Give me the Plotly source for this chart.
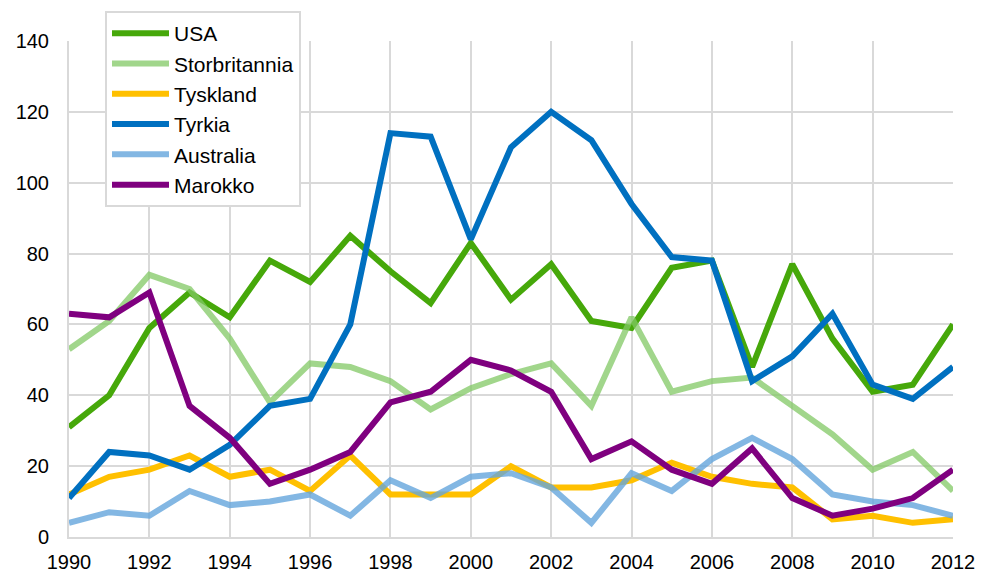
import plotly.graph_objects as go

years = list(range(1990, 2013))
usa = [31, 40, 59, 69, 62, 78, 72, 85, 75, 66, 83, 67, 77, 61, 59, 76, 78, 48, 77, 56, 41, 43, 60]
storbritannia = [53, 61, 74, 70, 56, 38, 49, 48, 44, 36, 42, 46, 49, 37, 62, 41, 44, 45, 37, 29, 19, 24, 13]
tyskland = [12, 17, 19, 23, 17, 19, 13, 23, 12, 12, 12, 20, 14, 14, 16, 21, 17, 15, 14, 5, 6, 4, 5]
tyrkia = [11, 24, 23, 19, 26, 37, 39, 60, 114, 113, 84, 110, 120, 112, 94, 79, 78, 44, 51, 63, 43, 39, 48]
australia = [4, 7, 6, 13, 9, 10, 12, 6, 16, 11, 17, 18, 14, 4, 18, 13, 22, 28, 22, 12, 10, 9, 6]
marokko = [63, 62, 69, 37, 28, 15, 19, 24, 38, 41, 50, 47, 41, 22, 27, 19, 15, 25, 11, 6, 8, 11, 19]

x_ticks = list(range(1990, 2013, 2))
y_ticks = list(range(0, 141, 20))

series = [
    ("USA", usa, "#46a80a"),
    ("Storbritannia", storbritannia, "rgba(130,200,100,0.75)"),
    ("Tyskland", tyskland, "#ffc000"),
    ("Tyrkia", tyrkia, "#0070c0"),
    ("Australia", australia, "rgba(100,165,220,0.8)"),
    ("Marokko", marokko, "#7f007f"),
]

fig = go.Figure()
for name, vals, color in series:
    fig.add_trace(go.Scatter(x=years, y=vals, name=name, mode="lines",
                             line=dict(color=color, width=6)))

# page body has an 8px margin, so the figure is sized/offset to compensate
W, H = 979, 566
fig.update_layout(
    width=W, height=H,
    margin=dict(l=61, r=34, t=33, b=37, autoexpand=False),
    paper_bgcolor="white", plot_bgcolor="white",
    font=dict(family="Liberation Sans, Arial, sans-serif", size=20, color="#000000"),
    showlegend=True,
    legend=dict(xref="container", yref="container", x=(105 - 8) / W, y=1 - (11 - 8) / H,
                xanchor="left", yanchor="top",
                bgcolor="white", bordercolor="#d9d9d9", borderwidth=2,
                font=dict(size=21), itemwidth=57, tracegroupgap=0),
    xaxis=dict(range=[1990, 2012], tickvals=x_ticks, showgrid=True, gridcolor="#d9d9d9",
               gridwidth=2, showline=True, linecolor="#d9d9d9", linewidth=2,
               zeroline=False, ticks="", tickfont=dict(size=20), ticklabelstandoff=6,
               automargin=False),
    yaxis=dict(range=[0, 140], tickvals=y_ticks, showgrid=True, gridcolor="#d9d9d9",
               gridwidth=2, showline=True, linecolor="#d9d9d9", linewidth=2,
               zeroline=False, ticks="", tickfont=dict(size=20), ticklabelstandoff=14,
               automargin=False),
)

fig.write_html("out.html")
